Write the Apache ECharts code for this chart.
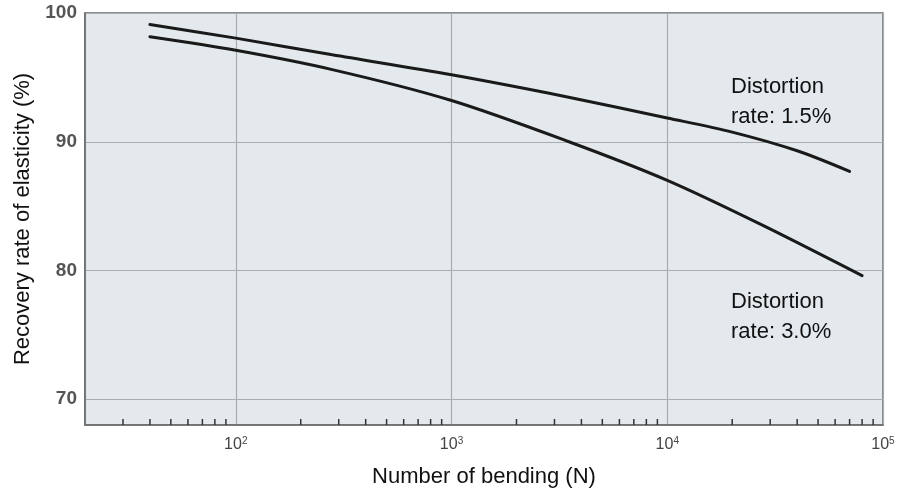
<!DOCTYPE html>
<html>
<head>
<meta charset="utf-8">
<script src="https://cdn.jsdelivr.net/npm/echarts@6/dist/echarts.min.js"></script>
<style>
html,body{margin:0;padding:0;background:#fff;}
#chart{width:902px;height:492px;}
</style>
</head>
<body>
<div id="chart"></div>
<script>
// Number of bending (N) and recovery rate (%)
var bending15 = [40, 100, 280, 1000, 3400, 10000, 20000, 40000, 70000];
var recovery15 = [99.1, 98.05, 96.75, 95.2, 93.5, 91.85, 90.75, 89.3, 87.7];
var bending30 = [40, 100, 280, 1000, 3500, 10000, 27000, 80000];
var recovery30 = [98.15, 97.1, 95.6, 93.2, 90.0, 87.0, 83.6, 79.6];
var seriesNames = ['Distortion\nrate: 1.5%', 'Distortion\nrate: 3.0%'];
var yTickValues = [70, 80, 90, 100];
var minorTicks = [30, 40, 50, 60, 70, 80, 90,
  200, 300, 400, 500, 600, 700, 800, 900,
  2000, 3000, 4000, 5000, 6000, 7000, 8000, 9000,
  20000, 30000, 40000, 50000, 60000, 70000, 80000, 90000];
var xTitle = 'Number of bending (N)';
var yTitle = 'Recovery rate of elasticity (%)';

function pairs(xs, ys) { return xs.map(function (x, i) { return [x, ys[i]]; }); }

var FONT = '"Liberation Sans", Arial, Helvetica, sans-serif';
var chart = echarts.init(document.getElementById('chart'));
chart.setOption({
  animation: false,
  backgroundColor: '#ffffff',
  textStyle: { fontFamily: FONT },
  grid: {
    left: 85, right: 19, top: 13, bottom: 67,
    containLabel: false, outerBoundsMode: 'none',
    show: true, backgroundColor: '#e3e9ed', borderColor: '#6a6a6a', borderWidth: 1.5
  },
  xAxis: {
    type: 'log', logBase: 10, min: 20, max: 100000,
    name: xTitle, nameLocation: 'middle', nameGap: 41,
    nameTextStyle: { fontSize: 22, color: '#111', fontFamily: FONT },
    axisLine: { show: true, lineStyle: { color: '#6a6a6a', width: 1.5 } },
    axisTick: { show: false },
    splitLine: { show: true, lineStyle: { color: '#a9adb0', width: 1.2 } },
    axisLabel: {
      margin: 11, color: '#444', fontFamily: FONT,
      showMinLabel: false,
      formatter: function (v) {
        var e = Math.round(Math.log10(v));
        if (Math.abs(Math.pow(10, e) - v) > 1e-6 * v) return '';
        return '{b|10}{s|' + e + '}';
      },
      rich: {
        b: { fontSize: 16, color: '#444', fontFamily: FONT },
        s: { fontSize: 10, color: '#444', fontFamily: FONT, padding: [0, 0, 8, 0] }
      }
    }
  },
  yAxis: {
    type: 'value', min: 68, max: 100, splitNumber: 3,
    name: yTitle, nameLocation: 'middle', nameGap: 41, nameRotate: 90,
    nameTextStyle: { fontSize: 22, color: '#111', fontFamily: FONT },
    axisLine: { show: true, lineStyle: { color: '#6a6a6a', width: 1.5 } },
    axisTick: { show: false },
    splitLine: { show: true, lineStyle: { color: '#a9adb0', width: 1.2 } },
    axisLabel: {
      margin: 8, fontSize: 19, color: '#555', fontWeight: 'bold', fontFamily: FONT,
      formatter: function (v) { return yTickValues.indexOf(v) >= 0 ? String(v) : ''; }
    }
  },
  graphic: [
    { type: 'text', left: 731, top: 72, silent: true,
      style: { text: seriesNames[0], font: '22px ' + FONT, lineHeight: 30, fill: '#111' } },
    { type: 'text', left: 731, top: 287, silent: true,
      style: { text: seriesNames[1], font: '22px ' + FONT, lineHeight: 30, fill: '#111' } }
  ],
  series: [
    {
      name: seriesNames[0], type: 'line', data: pairs(bending15, recovery15),
      smooth: 0.3, showSymbol: false, symbol: 'none',
      lineStyle: { color: '#1a1a1a', width: 3, cap: 'round' }, z: 5
    },
    {
      name: seriesNames[1], type: 'line', data: pairs(bending30, recovery30),
      smooth: 0.3, showSymbol: false, symbol: 'none',
      lineStyle: { color: '#1a1a1a', width: 3, cap: 'round' }, z: 5
    },
    {
      type: 'custom', data: minorTicks.map(function (v) { return [v, 68]; }),
      silent: true, z: 6,
      renderItem: function (params, api) {
        var p = api.coord([api.value(0), api.value(1)]);
        var bottom = params.coordSys.y + params.coordSys.height;
        return { type: 'line',
          shape: { x1: p[0], y1: bottom, x2: p[0], y2: bottom - 6 },
          style: { stroke: '#333', lineWidth: 1.5 } };
      }
    }
  ]
});
</script>
</body>
</html>
